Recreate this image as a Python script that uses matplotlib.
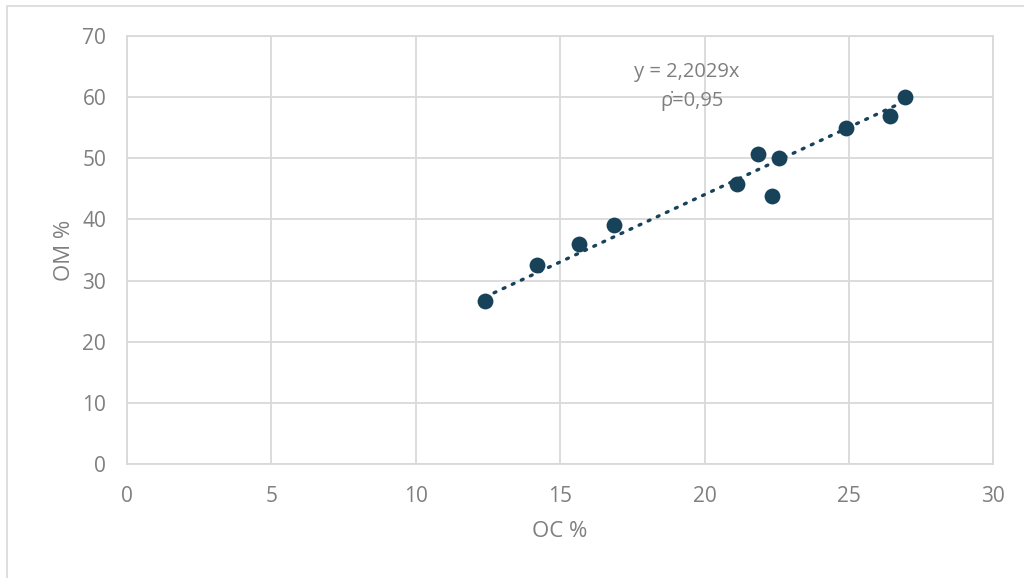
import matplotlib.pyplot as plt
import numpy as np

plt.rcParams['font.family'] = ['Open Sans', 'DejaVu Sans']

# data
oc = [12.40, 14.19, 15.67, 16.85, 21.12, 21.85, 22.59, 22.33, 24.90, 26.43, 26.95]
om = [26.7, 32.6, 36.0, 39.1, 45.75, 50.7, 50.1, 43.9, 55.0, 56.9, 60.1]
slope = 2.2029
x_ticks = [0, 5, 10, 15, 20, 25, 30]
y_ticks = [0, 10, 20, 30, 40, 50, 60, 70]

dark = '#17425a'
grey_txt = '#7f7f7f'
grid_c = '#d9d9d9'

fig = plt.figure(figsize=(10.24, 5.78), dpi=100)
ax = fig.add_axes([0.124, 0.1972, 0.846, 0.7405])

# outer chart border (only left/top visible in the reference)
fig.add_artist(plt.Rectangle((7 / 1024, -0.05), 1.2, 1 - 6 / 578 + 0.05,
                             transform=fig.transFigure, fill=False,
                             edgecolor=grid_c, linewidth=1.2))

# trendline through origin
tx = np.array([min(oc), max(oc)])
ax.plot(tx, slope * tx, linestyle=(0, (0.6, 2.4)), dash_capstyle='round',
        color=dark, linewidth=2.4, zorder=2)

ax.scatter(oc, om, s=130, color=dark, zorder=3, linewidths=0)

ax.set_xlim(0, 30)
ax.set_ylim(0, 70)
ax.set_xticks(x_ticks)
ax.set_yticks(y_ticks)
ax.grid(True, color=grid_c, linewidth=1.3, zorder=0)
ax.set_axisbelow(True)
for s in ax.spines.values():
    s.set_color(grid_c)
    s.set_linewidth(1.3)
ax.tick_params(length=0, labelsize=15, labelcolor=grey_txt)
ax.tick_params(axis='x', pad=16)
ax.tick_params(axis='y', pad=15)

ax.set_xlabel('OC %', fontsize=16, color=grey_txt, labelpad=10)
ax.set_ylabel('OM %', fontsize=16, color=grey_txt, labelpad=5)

ax.text(19.4, 64.1, 'y = 2,2029x', fontsize=14.5, color=grey_txt, ha='center', va='center')
ax.text(19.57, 59.4, '\u03c1\u0307=0,95', fontsize=14.5, color=grey_txt, ha='center', va='center')

fig.savefig('out.png', dpi=100)
